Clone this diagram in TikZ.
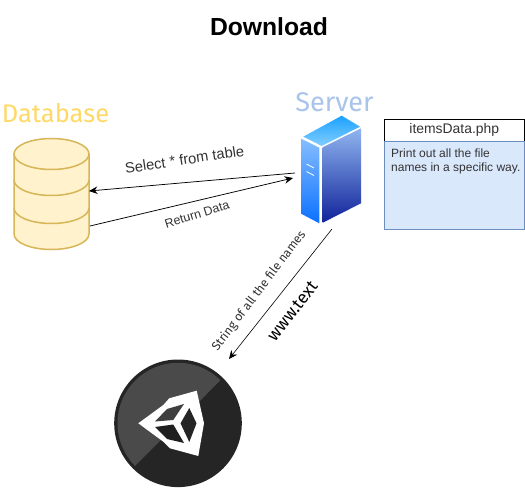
\documentclass[tikz,border=0pt]{standalone}
\usepackage{fontspec}
\setmainfont{Liberation Sans}
\newfontfamily\handfont{Fira Sans}
\usetikzlibrary{arrows.meta}
\definecolor{dbfill}{HTML}{FFF2CC}
\definecolor{dbline}{HTML}{D6B656}
\definecolor{dbtitlecol}{HTML}{FFD966}
\definecolor{srvtitlecol}{HTML}{A9C4EB}
\definecolor{boxfill}{HTML}{DAE8FC}
\definecolor{boxline}{HTML}{6C8EBF}
\definecolor{txt}{HTML}{333333}
\definecolor{srvtopa}{HTML}{1AA0FF}
\definecolor{srvtopb}{HTML}{85D0FF}
\definecolor{srvlefta}{HTML}{85BDFF}
\definecolor{srvleftb}{HTML}{0A70FF}
\definecolor{srvrighta}{HTML}{90B6F0}
\definecolor{srvrightb}{HTML}{10229A}
\definecolor{unitydark}{HTML}{252525}
\definecolor{unitylight}{HTML}{4A4A4A}
\tikzset{
  x=1pt,y=-1pt,
  flow/.style={draw=black,line width=0.75pt,-{Stealth[length=8.5pt,width=7.5pt]}},
  lbl/.style={inner sep=0pt,text=txt},
  dbstroke/.style={draw=dbline,line width=1.5pt},
  hand/.style={inner sep=0pt,font=\handfont\fontsize{#1}{28}\selectfont},
}
\begin{document}
\begin{tikzpicture}
\useasboundingbox (0,0) rectangle (525,489);
\fill[white] (0,0) rectangle (525,489);

\node[inner sep=0pt,font=\fontsize{24.7}{28}\selectfont\bfseries] (title) at (269,27) {Download};
\node[hand=25.5,text=dbtitlecol] (dbtitle) at (55.5,113) {Database};
\node[hand=27,text=srvtitlecol] (srvtitle) at (334.5,102.5) {Server};

% database
\filldraw[dbstroke,fill=dbfill] (14,154) arc[x radius=37.5,y radius=15.5,start angle=180,end angle=360]
  -- (89,234) arc[x radius=37.5,y radius=15.5,start angle=0,end angle=180] -- cycle;
\draw[dbstroke] (14,154) arc[x radius=37.5,y radius=15.5,start angle=180,end angle=0];
\draw[dbstroke] (14,180) arc[x radius=37.5,y radius=15.5,start angle=180,end angle=0];
\draw[dbstroke] (14,208) arc[x radius=37.5,y radius=15.5,start angle=180,end angle=0];

% server
\begin{scope}
\clip (341.7,115.7) -- (360,126.7) -- (321.7,146) -- (303.3,136.7) -- cycle;
\shade[top color=srvtopa,bottom color=srvtopb] (300,115) rectangle (362,147);
\end{scope}
\begin{scope}
\clip (301.7,139) -- (319.3,147.7) -- (319.3,223.3) -- (301.7,214) -- cycle;
\shade[top color=srvlefta,bottom color=srvleftb] (300,139) rectangle (320,224);
\end{scope}
\begin{scope}
\clip (322.7,147.3) -- (361,128.3) -- (361,203.3) -- (322.7,222.7) -- cycle;
\shade[top color=srvrighta,bottom color=srvrightb] (322,128) rectangle (362,223);
\end{scope}
\draw[white,line width=0.8pt] (306.5,164) -- (314,168);
\draw[white,line width=0.8pt] (306.5,171.5) -- (314,175.5);

% php box
\node[draw=black,fill=white,line width=0.8pt,minimum width=140pt,minimum height=21.7pt,inner sep=0pt,
  font=\fontsize{13.9}{16}\selectfont,text=txt] (boxhead) at (454.3,130.2) {itemsData.php};
\node[draw=boxline,fill=boxfill,line width=0.8pt,minimum width=140pt,minimum height=88.3pt,inner sep=0pt] (boxbody) at (454.3,185.2) {};
\node[anchor=north west,inner sep=0pt,align=left,text=txt,font=\fontsize{12}{14}\selectfont] (boxtext) at (391,149)
  {Print out all the file\\names in a specific way.};

% unity
\fill[unitydark] (178,423.3) circle[radius=63.8];
\begin{scope}
\clip (178,423.3) circle[radius=60.5];
\fill[unitylight] (220,380.7) -- (135,466) -- (100,430) -- (100,350) -- (220,350) -- cycle;
\end{scope}
\fill[white] (138.3,423.3) -- (163.3,405) -- (169.3,398.3) -- (196.7,390.7) -- (204,423.3) -- (198.3,456) -- (170,448.3) -- (163.3,441.7) -- cycle;
\fill[unitylight!85!black] (155,421.5) -- (167,409) -- (184,404) -- (173.3,420) -- cycle;
\fill[unitydark] (189.3,408) -- (196.5,423.3) -- (189.3,442) -- (180.5,423.3) -- cycle;
\fill[unitydark!85!black] (155,427) -- (173.3,424.5) -- (184,443) -- (167,439) -- cycle;

% anchors of the connectors
\coordinate (dbin) at (89,191);
\coordinate (dbout) at (90,226);
\coordinate (srvin) at (293,178);
\coordinate (srvout) at (295,173);
\coordinate (srvdown) at (332,229);
\coordinate (unityin) at (229,359);

\draw[flow] (srvout) -- (dbin);
\draw[flow] (dbout) -- (srvin);
\draw[flow,line width=0.6pt] (srvdown) -- (unityin);

\node[lbl,rotate=8.5,font=\fontsize{14.7}{16}\selectfont] (q1) at (184.5,159.5) {Select * from table};
\node[lbl,rotate=17,font=\fontsize{12.4}{14}\selectfont] (q2) at (197,214.5) {Return Data};
\node[lbl,rotate=53,font=\handfont\fontsize{12.3}{14}\selectfont] (q3) at (259,291) {String of all the file names};
\node[inner sep=0pt,rotate=52,font=\handfont\fontsize{17.3}{20}\selectfont] (q4) at (292.5,311) {www.text};
\end{tikzpicture}
\end{document}
